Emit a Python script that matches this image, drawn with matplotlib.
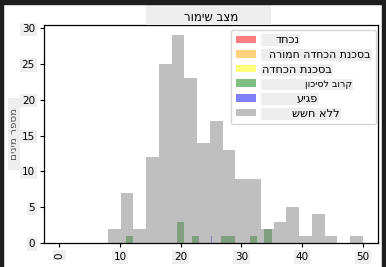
import numpy as np
import matplotlib
matplotlib.use("Agg")
import matplotlib.pyplot as plt
from matplotlib.patches import Rectangle
from matplotlib.path import Path

plt.rcParams['font.family'] = ['DejaVu Sans']

# ---- data (Hebrew as drawn, left to right) ----
title = "רומיש בצמ"
ylabel = "םינימ רפסמ"
labels = ["דחכנ", "הרומח הדחכה תנכסב", "הדחכה תנכסב", "ןוכיסל בורק", "עיגפ", "ששח אלל"]
colors = ["red", "orange", "yellow", "green", "blue", "gray"]

# gray series ("ששח אלל"): 20 bins from 8 to 50
gray_range = (8, 50)
gray_counts = [2, 7, 2, 12, 25, 29, 23, 14, 17, 13, 9, 9, 2, 3, 5, 1, 4, 1, 0, 1]
# green series ("ןוכיסל בורק"): 20 bins from 11 to 35
green_range = (11, 35)
green_counts = [1, 0, 0, 0, 0, 0, 0, 3, 0, 1, 0, 0, 0, 1, 1, 0, 0, 1, 0, 2]
# blue series ("עיגפ"): two values
blue_values = [25, 27]
# red, orange, yellow: empty
empty = []

xticks = [0, 10, 20, 30, 40, 50]
yticks = [0, 5, 10, 15, 20, 25, 30]

W, H = 386, 267
fig = plt.figure(figsize=(W / 100, H / 100), dpi=100)
ax = fig.add_axes([44 / W, 1 - 243 / H, (378 - 44) / W, (243 - 25) / H])


def binned(rng, counts):
    edges = np.linspace(rng[0], rng[1], len(counts) + 1)
    centers = (edges[:-1] + edges[1:]) / 2
    return centers, edges, counts


ax.hist(empty, bins=20, color=colors[0], alpha=0.5, label=labels[0])
ax.hist(empty, bins=20, color=colors[1], alpha=0.5, label=labels[1])
ax.hist(empty, bins=20, color=colors[2], alpha=0.5, label=labels[2])
c, e, w = binned(green_range, green_counts)
ax.hist(c, bins=e, weights=w, color=colors[3], alpha=0.5, label=labels[3])
ax.hist(blue_values, bins=20, color=colors[4], alpha=0.5, label=labels[4])
c, e, w = binned(gray_range, gray_counts)
ax.hist(c, bins=e, weights=w, color=colors[5], alpha=0.5, label=labels[5])


def make_box(l, r, b, t):
    def box(x0, y0, width, height, mutation_size):
        xa, ya = x0 - l, y0 - b
        xb, yb = x0 + width + r, y0 + height + t
        return Path([(xa, ya), (xb, ya), (xb, yb), (xa, yb), (xa, ya)], closed=True)
    return box


BG = '#eeeeee'

ax.set_xticks(xticks)
ax.set_yticks(yticks)
ax.tick_params(labelsize=7.5, length=3, width=0.8)
for t in ax.get_xticklabels() + ax.get_yticklabels():
    t.set_bbox(dict(facecolor=BG, edgecolor='none', pad=1.2))
ax.get_xticklabels()[0].set_rotation(90)

ax.set_title(title, fontsize=8.5, pad=3,
             bbox=dict(facecolor=BG, edgecolor='none', boxstyle=make_box(38, 33, 1, 7)))
ax.set_ylabel(ylabel, fontsize=7.5, labelpad=2, color='#555555',
              bbox=dict(facecolor=BG, edgecolor='none', boxstyle=make_box(10, 10, 1, 1)))

leg = ax.legend(loc='upper right', bbox_to_anchor=(0.994, 0.977), borderaxespad=0,
                fontsize=8.2, handlelength=1.75, handleheight=0.6, labelspacing=0.42,
                handletextpad=1.2, borderpad=0.45, framealpha=0.8, edgecolor='#cccccc')
# horizontal offset (px) of each label text inside its grey box, and its size
offsets = [6, 0, -7, 36, 27, 23]
sizes = [8.2, 7.8, 8.2, 6.8, 8.2, 8.2]
for t, off, sz in zip(leg.get_texts(), offsets, sizes):
    t.set_fontsize(sz)
    t.set_position((off, 0))
    t.set_bbox(dict(facecolor=BG, edgecolor='none', boxstyle=make_box(off + 8, 1, 1, 1)))

for s in ax.spines.values():
    s.set_linewidth(0.9)

# dark screenshot border
dark = '#1e1e1e'
fig.add_artist(Rectangle((0, 1 - 4 / H), 1, 4 / H, transform=fig.transFigure, color=dark, zorder=10))
fig.add_artist(Rectangle((0, 0), 3 / W, 1, transform=fig.transFigure, color=dark, zorder=10))
fig.add_artist(Rectangle((1 - 4 / W, 0), 4 / W, 1, transform=fig.transFigure, color=dark, zorder=10))

fig.savefig("out.png", dpi=100)
